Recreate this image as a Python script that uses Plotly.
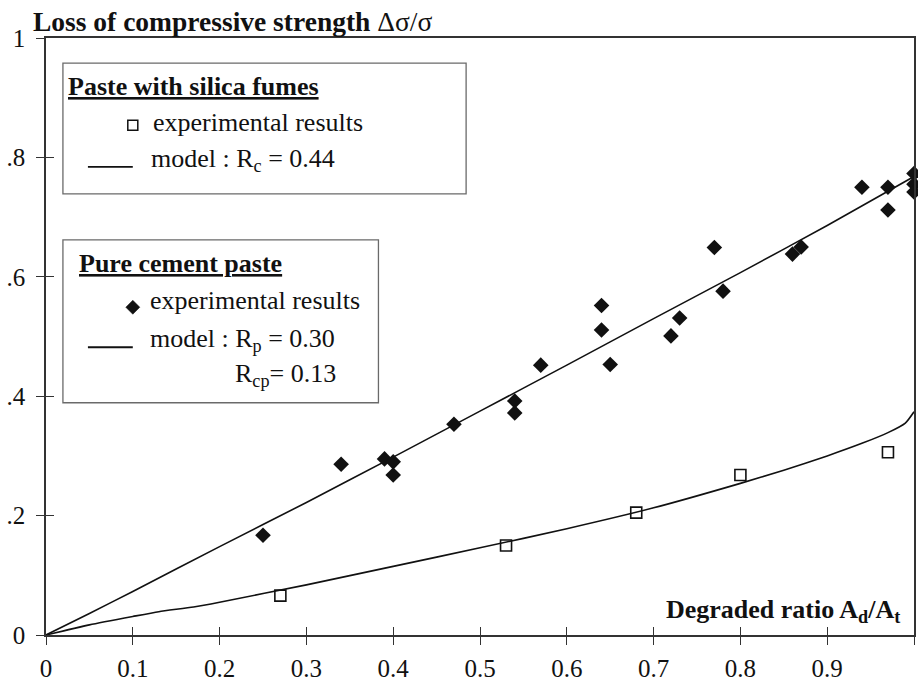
import plotly.graph_objects as go

# ---- data ----
cement_x = [0.25, 0.34, 0.39, 0.40, 0.40, 0.47, 0.54, 0.54, 0.57, 0.64, 0.64, 0.65,
            0.72, 0.73, 0.77, 0.78, 0.86, 0.87, 0.94, 0.97, 0.97, 1.00, 1.00, 1.00]
cement_y = [0.167, 0.286, 0.295, 0.290, 0.268, 0.353, 0.392, 0.372, 0.452, 0.552, 0.511, 0.453,
            0.501, 0.531, 0.649, 0.576, 0.638, 0.650, 0.750, 0.750, 0.712, 0.773, 0.755, 0.742]

silica_x = [0.27, 0.53, 0.68, 0.80, 0.97]
silica_y = [0.066, 0.150, 0.205, 0.268, 0.306]

model_cement_x = [0.0, 0.05, 0.1, 0.2, 0.3, 0.4, 0.5, 0.6, 0.7, 0.8, 0.9, 1.0]
model_cement_y = [0.0, 0.036, 0.073, 0.148, 0.222, 0.298, 0.375, 0.452, 0.530, 0.607, 0.686, 0.768]

model_silica_x = [0.0, 0.05, 0.1, 0.13, 0.17, 0.2, 0.3, 0.4, 0.5, 0.6, 0.7, 0.8, 0.85,
                  0.9, 0.94, 0.97, 0.99, 1.0]
model_silica_y = [0.0, 0.017, 0.031, 0.039, 0.047, 0.055, 0.084, 0.115, 0.146, 0.178, 0.213,
                  0.254, 0.276, 0.300, 0.321, 0.339, 0.355, 0.374]

x_tickvals = [0, 0.1, 0.2, 0.3, 0.4, 0.5, 0.6, 0.7, 0.8, 0.9, 1]
x_ticktext = ["0", "0.1", "0.2", "0.3", "0.4", "0.5", "0.6", "0.7", "0.8", "0.9", "1"]
y_tickvals = [0, 0.2, 0.4, 0.6, 0.8, 1]
y_ticktext = ["0", ".2", ".4", ".6", ".8", "1"]

FONT = "Liberation Serif"
INK = "#111111"
AX = "#333333"

fig = go.Figure()

fig.add_trace(go.Scatter(x=model_cement_x, y=model_cement_y, mode="lines",
                         line=dict(color=INK, width=1.6, shape="spline", smoothing=0.6),
                         showlegend=False, hoverinfo="skip"))
fig.add_trace(go.Scatter(x=model_silica_x, y=model_silica_y, mode="lines",
                         line=dict(color=INK, width=1.6, shape="spline", smoothing=0.6),
                         showlegend=False, hoverinfo="skip"))
fig.add_trace(go.Scatter(x=cement_x, y=cement_y, mode="markers",
                         marker=dict(symbol="diamond", size=12, color=INK,
                                     line=dict(width=0)), showlegend=False, cliponaxis=False))
fig.add_trace(go.Scatter(x=silica_x, y=silica_y, mode="markers",
                         marker=dict(symbol="square-open", size=11, color=INK,
                                     line=dict(width=1.6)), showlegend=False, cliponaxis=False))
# helper trace so the overlaid tick axes exist
fig.add_trace(go.Scatter(x=[None], y=[None], xaxis="x2", yaxis="y2",
                         showlegend=False, hoverinfo="skip"))

axis_common = dict(range=[0, 1], showgrid=False, zeroline=False,
                   showline=True, linecolor=AX, linewidth=1.6,
                   ticks="outside", ticklen=8, tickwidth=1.3, tickcolor=AX,
                   tickfont=dict(family=FONT, size=25, color=INK))

fig.update_layout(
    width=918, height=686,
    margin=dict(l=46, r=2, t=38, b=51),
    paper_bgcolor="white", plot_bgcolor="white",
    font=dict(family=FONT, color=INK),
    xaxis=dict(axis_common, tickvals=x_tickvals, ticktext=x_ticktext,
               mirror=True, ticklabelstandoff=2),
    yaxis=dict(axis_common, tickvals=y_tickvals, ticktext=y_ticktext,
               mirror=True, ticklabelstandoff=6),
    xaxis2=dict(range=[0, 1], overlaying="x", anchor="y2", showgrid=False, zeroline=False,
                showline=False, ticks="inside", ticklen=8, tickwidth=1.3, tickcolor=AX,
                tickvals=x_tickvals[1:-1], showticklabels=False),
    yaxis2=dict(range=[0, 1], overlaying="y", anchor="x2", showgrid=False, zeroline=False,
                showline=False, ticks="inside", ticklen=8, tickwidth=1.3, tickcolor=AX,
                tickvals=y_tickvals[1:], showticklabels=False),
)

# ---- legend boxes ----
BOX = "#6a6a6a"
fig.add_shape(type="rect", xref="paper", yref="paper", x0=0.0195, x1=0.484, y0=0.739, y1=0.958,
              line=dict(color=BOX, width=1.3), fillcolor="white", layer="below")
fig.add_shape(type="rect", xref="paper", yref="paper", x0=0.0195, x1=0.383, y0=0.389, y1=0.662,
              line=dict(color=BOX, width=1.3), fillcolor="white", layer="below")

# legend keys
fig.add_shape(type="rect", xref="paper", yref="paper", xsizemode="pixel", ysizemode="pixel",
              xanchor=0.1, yanchor=0.854, x0=-5, x1=5, y0=-5, y1=5,
              line=dict(color=INK, width=1.5))
fig.add_shape(type="line", xref="paper", yref="paper", x0=0.0483, x1=0.1, y0=0.784, y1=0.784,
              line=dict(color=INK, width=1.8))
fig.add_shape(type="path", xref="paper", yref="paper", xsizemode="pixel", ysizemode="pixel",
              xanchor=0.1, yanchor=0.549, path="M0,-7 L7,0 L0,7 L-7,0 Z",
              fillcolor=INK, line=dict(color=INK, width=0.5))
fig.add_shape(type="line", xref="paper", yref="paper", x0=0.0483, x1=0.1, y0=0.482, y1=0.482,
              line=dict(color=INK, width=1.8))

def note(text, x, y, size=26, xanchor="left"):
    fig.add_annotation(text=text, xref="paper", yref="paper", x=x, y=y,
                       xanchor=xanchor, yanchor="middle", showarrow=False,
                       font=dict(family=FONT, size=size, color=INK))

note("<b>Loss of compressive strength </b>Δσ/σ", -0.017, 1.027, size=27.5)
note("<b>Degraded ratio A<sub>d</sub>/A<sub>t</sub></b>", 0.986, 0.04, size=26, xanchor="right")

note("<b><u>Paste with silica fumes</u></b>", 0.0235, 0.918)
note("experimental results", 0.121, 0.859)
note("model : R<sub>c</sub> = 0.44", 0.119, 0.7956)

note("<b><u>Pure cement paste</u></b>", 0.036, 0.623)
note("experimental results", 0.117, 0.561)
note("model : R<sub>p</sub> = 0.30", 0.118, 0.494)
note("R<sub>cp</sub>= 0.13", 0.215, 0.4355)

fig.write_html("out.html")
